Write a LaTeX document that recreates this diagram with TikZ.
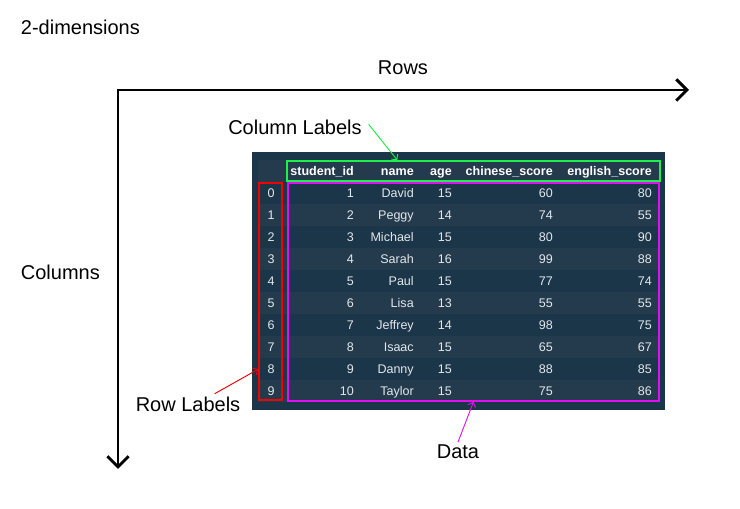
\documentclass[tikz,border=0pt]{standalone}
\usepackage{fontspec}
\setmainfont{Liberation Sans}
\usetikzlibrary{arrows.meta,fit}
\definecolor{TableBg}{HTML}{1B3549}
\definecolor{TableStripe}{HTML}{243B4D}
\definecolor{CellText}{HTML}{E3E7EB}
\definecolor{LabelGreen}{HTML}{1EF04A}
\definecolor{LabelRed}{HTML}{F00000}
\definecolor{LabelMagenta}{HTML}{E010F0}
\tikzset{
  cell/.style={text=CellText,font=\fontsize{9.4}{11}\selectfont,
    inner sep=0pt,anchor=base east},
  headcell/.style={cell,text=white,font=\fontsize{9.4}{11}\selectfont\bfseries},
  caption/.style={font=\fontsize{15}{18}\selectfont,inner sep=2pt},
  markbox/.style={draw=#1,line width=1.1pt,inner sep=0pt},
  axis/.style={line width=2.2pt,line join=miter,
    {Straight Barb[length=8pt,width=16pt]}-{Straight Barb[length=8pt,width=16pt]}},
  labelarrow/.style={line width=0.7pt,-{Straight Barb[length=3pt,width=6pt]}}
}
\newcommand{\datarow}[6]{%
  \ifodd#1\relax
    \path[fill=TableStripe] (258,{182+22*#1}) rectangle (660,{204+22*#1});
  \fi
  \node[cell,anchor=base] (idx#1) at (271,{197.5+22*#1}) {#1};
  \node[cell] (sid#1) at (354,{197.5+22*#1}) {#2};
  \node[cell] (name#1) at (414,{197.5+22*#1}) {#3};
  \node[cell] (age#1) at (452,{197.5+22*#1}) {#4};
  \node[cell] (chn#1) at (553,{197.5+22*#1}) {#5};
  \node[cell] (eng#1) at (652,{197.5+22*#1}) {#6};
}

\begin{document}
\begin{tikzpicture}[x=0.75pt,y=-0.75pt]
  \useasboundingbox (0,0) rectangle (740,509);
  % table
  \path[fill=TableBg] (252,152) rectangle (665,410);
  \path[fill=TableStripe] (258,160) rectangle (660,182);
  \node[headcell] (hsid) at (354,176) {student\_id};
  \node[headcell] (hname) at (414,176) {name};
  \node[headcell] (hage) at (452,176) {age};
  \node[headcell] (hchn) at (553,176) {chinese\_score};
  \node[headcell] (heng) at (652,176) {english\_score};
  \datarow{0}{1}{David}{15}{60}{80}
  \datarow{1}{2}{Peggy}{14}{74}{55}
  \datarow{2}{3}{Michael}{15}{80}{90}
  \datarow{3}{4}{Sarah}{16}{99}{88}
  \datarow{4}{5}{Paul}{15}{77}{74}
  \datarow{5}{6}{Lisa}{13}{55}{55}
  \datarow{6}{7}{Jeffrey}{14}{98}{75}
  \datarow{7}{8}{Isaac}{15}{65}{67}
  \datarow{8}{9}{Danny}{15}{88}{85}
  \datarow{9}{10}{Taylor}{15}{75}{86}
  % marked parts
  \node[markbox=LabelRed,fit={(259,183) (282,400)}] (rowbox) {};
  \node[markbox=LabelMagenta,fit={(288,183) (659,401)}] (databox) {};
  \node[markbox=LabelGreen,fit={(287,161) (660,181)}] (colbox) {};
  % labels
  \node[caption,anchor=west] (title) at (18,27) {2-dimensions};
  \node[caption] (rows) at (403,68) {Rows};
  \node[caption,anchor=west] (columns) at (18,272) {Columns};
  \node[caption] (collabel) at (295,127) {Column Labels};
  \node[caption] (rowlabel) at (188,404) {Row Labels};
  \node[caption] (datalabel) at (458,452) {Data};
  \draw[labelarrow,LabelGreen] ([shift={(3pt,2pt)}]collabel.east) -- (colbox.north -| hname);
  \draw[labelarrow,LabelRed] ([xshift=20pt]rowlabel.north) -- (rowbox.west |- idx8);
  \draw[labelarrow,LabelMagenta] (datalabel.north) -- (databox.south);
  % axes
  \coordinate (origin) at (118,90);
  \coordinate (rowsend) at (689,90);
  \coordinate (colsend) at (118,469);
  \draw[axis] (rowsend) -- (origin) -- (colsend);
\end{tikzpicture}
\end{document}
